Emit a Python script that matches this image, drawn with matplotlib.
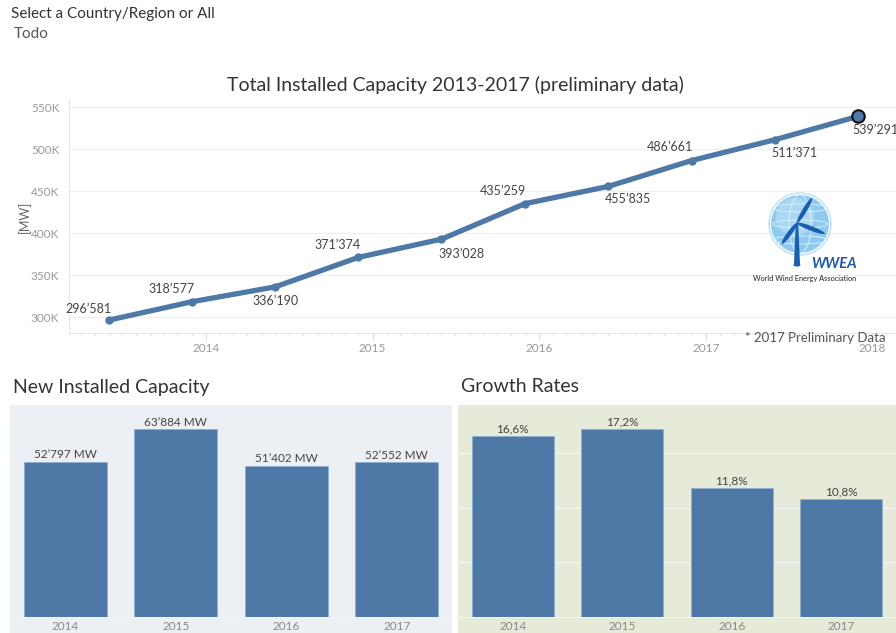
import numpy as np
import pandas as pd
import matplotlib
matplotlib.use("Agg")
import matplotlib.pyplot as plt
import matplotlib.dates as mdates
from matplotlib.patches import Circle, Ellipse, Rectangle, Polygon

plt.rcParams['font.family'] = ['Lato', 'DejaVu Sans']

# cumulative capacity, half-year steps
cap_dates = ["2013-06-01", "2013-12-01", "2014-06-01", "2014-12-01", "2015-06-01",
             "2015-12-01", "2016-06-01", "2016-12-01", "2017-06-01", "2017-12-01"]
cap_values = [296581, 318577, 336190, 371374, 393028,
              435259, 455835, 486661, 511371, 539291]

years = ["2014", "2015", "2016", "2017"]
new_capacity = [52797, 63884, 51402, 52552]
growth_rates = [16.6, 17.2, 11.8, 10.8]

BLUE = "#4e79a7"
W, H = 896, 633


def rect(x0, y0, x1, y1):
    # pixel box (top-left origin) -> figure fraction
    return [x0 / W, 1 - y1 / H, (x1 - x0) / W, (y1 - y0) / H]


def fmt(v):
    return f"{v:,}".replace(",", "\u2019")


fig = plt.figure(figsize=(W / 100, H / 100), dpi=100)
fig.patch.set_facecolor("white")

fig.text(11 / W, 1 - 14 / H, "Select a Country/Region or All", fontsize=11,
         color="#333333", va="center")
fig.text(14 / W, 1 - 34 / H, "Todo", fontsize=11, color="#555555", va="center")
fig.text(455 / W, 1 - 85 / H, "Total Installed Capacity 2013-2017 (preliminary data)",
         fontsize=14, color="#333333", ha="center", va="center")

# ---- line chart ----
ax = fig.add_axes(rect(69, 100, 896, 333))
x = pd.to_datetime(cap_dates)
ax.plot(x, cap_values, color=BLUE, lw=3.8, solid_capstyle="round", zorder=3)
ax.plot(x[:-1], cap_values[:-1], "o", color=BLUE, ms=5, zorder=4)
ax.plot(x[-1:], cap_values[-1:], "o", color=BLUE, ms=9, mec="#111111", mew=1.5, zorder=5)

# label offsets in pixels (dx, dy), screen y up
offsets = [(-20, 11), (-21, 13), (0, -14), (-21, 12), (20, -15),
           (-22, 13), (20, -13), (-22, 14), (20, -13), (17, -14)]
for xi, v, (dx, dy) in zip(x, cap_values, offsets):
    ax.annotate(fmt(v), (xi, v), xytext=(dx * 0.72, dy * 0.72), textcoords="offset points",
                ha="center", va="center", fontsize=9, color="#444444",
                annotation_clip=False, zorder=6)

ax.set_xlim(pd.Timestamp("2013-03-06"), pd.Timestamp("2018-02-22"))
ax.set_ylim(281300, 558700)
ax.set_yticks(np.arange(300000, 550001, 50000))
ax.set_yticklabels([f"{int(t/1000)}K" for t in np.arange(300000, 550001, 50000)])
ax.xaxis.set_major_locator(mdates.YearLocator())
ax.xaxis.set_major_formatter(mdates.DateFormatter("%Y"))
ax.xaxis.set_minor_locator(mdates.MonthLocator())
ax.tick_params(axis="y", length=0, labelsize=8.5, labelcolor="#999999", pad=7)
ax.tick_params(axis="x", which="major", length=4, color="#dddddd", labelsize=8.5,
               labelcolor="#999999", pad=3)
ax.tick_params(axis="x", which="minor", length=2, color="#dddddd")
ax.grid(axis="y", color="#eeeeee", lw=0.8)
for s in ["top", "right"]:
    ax.spines[s].set_visible(False)
for s in ["left", "bottom"]:
    ax.spines[s].set_color("#e6e6e6")
ax.set_ylabel("[MW]", fontsize=9, color="#666666", labelpad=0)
ax.text(886 / W, 1 - 338 / H, "* 2017 Preliminary Data", transform=fig.transFigure,
        ha="right", va="center", fontsize=9.5, color="#555555")

# ---- WWEA logo ----
lg = fig.add_axes(rect(740, 190, 870, 290))
lg.set_xlim(740, 870)
lg.set_ylim(290, 190)
lg.set_aspect("equal")
lg.axis("off")
gx, gy = 800, 224
lg.add_patch(Circle((gx, gy), 31, fc="none", ec="#c4e2f6", lw=1.2))
lg.add_patch(Circle((gx, gy), 29, fc="#8fcbf0", ec="none"))
lg.add_patch(Circle((gx - 5, gy - 7), 19, fc="#b6def7", ec="none", alpha=0.7))
for yy in (gy - 16, gy, gy + 16):
    lg.add_patch(Ellipse((gx, yy), 56, 8, fc="none", ec="#d9eefb", lw=0.7))
lg.add_patch(Ellipse((gx, gy), 22, 58, fc="none", ec="#d9eefb", lw=0.7))
hx, hy = 797, 223
lg.add_patch(Polygon([(hx - 1.2, hy), (hx + 1.2, hy), (hx + 3, 264), (hx - 3, 264)],
                     fc="#1a5fae"))
lg.add_patch(Ellipse((hx, 265), 7, 3, fc="#1a5fae"))
for ang, ln in ((59, 29), (234, 26), (339, 30)):
    a = np.deg2rad(ang)
    cx, cy = hx + ln / 2 * np.cos(a), hy - ln / 2 * np.sin(a)
    lg.add_patch(Ellipse((cx, cy), ln, 4.5, angle=-ang, fc="#1a5fae"))
lg.text(811, 264, "WWEA", fontsize=10.5, fontweight="bold", style="italic",
        color="#1f5aa8", va="center")
lg.text(805, 279, "World Wind Energy Association", fontsize=5.3, color="#222222",
        ha="center", va="center")

# ---- bar panels ----
pos = np.arange(len(years))


def bar_panel(px, bg, vals, ymax, labels, title, grid):
    fig.add_artist(Rectangle((px[0] / W, 1 - 633 / H), (px[1] - px[0]) / W, 16 / H,
                             transform=fig.transFigure, fc=bg, ec="none", zorder=0))
    fig.text((px[0] + 3) / W, 1 - 387 / H, title, fontsize=14, color="#333333", va="center")
    a = fig.add_axes(rect(px[0], 405, px[1], 617))
    a.set_facecolor(bg)
    a.bar(pos, vals, width=0.75, color=BLUE, ec="#8fb0cf", lw=0.6, zorder=3)
    for p, v, t in zip(pos, vals, labels):
        a.annotate(t, (p, v), xytext=(0, 1), textcoords="offset points", ha="center",
                   va="bottom", fontsize=8.5, color="#444444")
    a.set_xlim(-0.5, len(vals) - 0.5)
    a.set_ylim(0, ymax)
    a.set_yticks(grid)
    a.set_yticklabels([])
    a.tick_params(axis="y", length=0)
    a.grid(axis="y", color="#f5f5f5", lw=1, zorder=1)
    a.set_xticks(pos)
    a.set_xticklabels(years)
    a.tick_params(axis="x", length=0, labelsize=8.5, labelcolor="#888888", pad=3)
    for s in a.spines.values():
        s.set_visible(False)
    a.spines["bottom"].set_visible(True)
    a.spines["bottom"].set_color("#f5f5f5")
    return a


bar_panel((10, 452), "#eceff3", new_capacity, 72100,
          [fmt(v) + " MW" for v in new_capacity], "New Installed Capacity", [])
bar_panel((458, 896), "#e6ead8", growth_rates, 19.4,
          [f"{v:.1f}%".replace(".", ",") for v in growth_rates], "Growth Rates", [5, 10, 15])

fig.savefig("out.png", dpi=100)
